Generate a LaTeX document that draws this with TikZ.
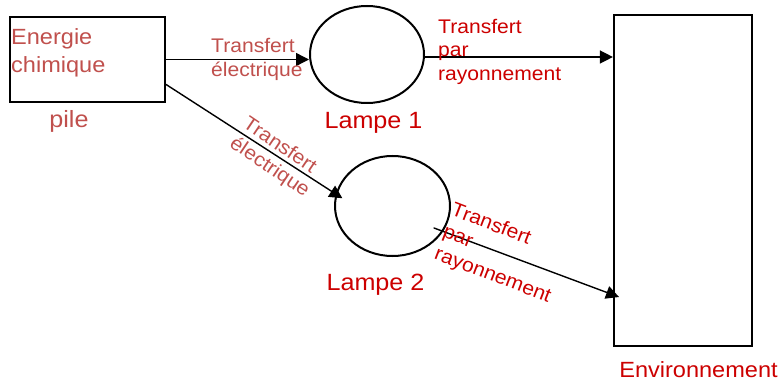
\documentclass[tikz,border=0pt]{standalone}
\usepackage{fontspec}
\newfontfamily\arial[FakeStretch=1.07]{Liberation Sans}
\usetikzlibrary{arrows.meta,shapes.geometric}
\definecolor{chimred}{RGB}{192,80,77}
\definecolor{rayred}{RGB}{204,0,0}

\begin{document}
\begin{tikzpicture}[x=1pt, y=-1pt, line cap=round, line join=round,
  boite/.style={draw, line width=2.2pt, line join=miter, inner sep=0pt},
  lampe/.style={draw, ellipse, line width=2pt, inner sep=0pt},
  fleche/.style={-{Triangle[length=13pt,width=13pt]}, line width=1.4pt},
  txtchim/.style={inner sep=0pt, text=chimred, align=left},
  txtray/.style={inner sep=0pt, text=rayred, align=left},
  petit/.style={font=\arial\fontsize{19.7}{23.5}\selectfont},
  grand/.style={font=\arial\fontsize{23.5}{28}\selectfont}]

  %% ════ 方框与灯 ════
  \node[boite, minimum width=155pt, minimum height=85pt] (pile) at (87.5,59.5) {};
  \node[boite, minimum width=138pt, minimum height=331pt] (env) at (683,180.5) {};
  \node[lampe, minimum width=114pt, minimum height=97pt] (lamp1) at (367,54.5) {};
  \node[lampe, minimum width=115pt, minimum height=100pt] (lamp2) at (392.5,206) {};

  %% ════ 箭头 ════
  \draw[fleche] (pile.east) -- (pile.east -| lamp1.west);
  \draw[fleche] ([yshift=-2.5pt]lamp1.east) -- ([yshift=-2.5pt]lamp1.east -| env.west);
  \draw[fleche, shorten >=-8pt] ([yshift=-25pt]pile.east) -- (lamp2.168);
  \coordinate (ray2) at (434,228);      % 起点在灯 2 里面
  \coordinate (ray2end) at (619,297);
  \draw[fleche] (ray2) -- (ray2end);

  %% ════ 标签 ════
  \node[txtchim, anchor=west, font=\arial\fontsize{22}{27.5}\selectfont] (chim) at (11,53) {Energie\\chimique};
  \node[txtchim, grand, anchor=base] (pilelbl) at (69,128) {pile};
  \node[txtchim, petit, anchor=west] (elec1) at (211,59.6) {Transfert\\électrique};
  \node[txtchim, petit, rotate=-34] (elec2) at (276,158) {Transfert\\électrique};
  \node[txtray, petit, anchor=west] (ray1lbl) at (438,51.5) {Transfert\\par\\rayonnement};
  \node[txtray, petit, rotate=-21] (ray2lbl) at (501,254) {Transfert\\par\\rayonnement};
  \node[txtray, grand, anchor=base] (lamp1lbl) at (373.5,128.3) {Lampe 1};
  \node[txtray, grand, anchor=base] (lamp2lbl) at (375.5,290) {Lampe 2};
  \node[txtray, font=\arial\fontsize{22}{27}\selectfont, anchor=base] (envlbl) at (698.5,377.3) {Environnement};

  % 钉死画布
  \pgfresetboundingbox
  \path[use as bounding box] (0,0) rectangle (782,385);
\end{tikzpicture}
\end{document}
